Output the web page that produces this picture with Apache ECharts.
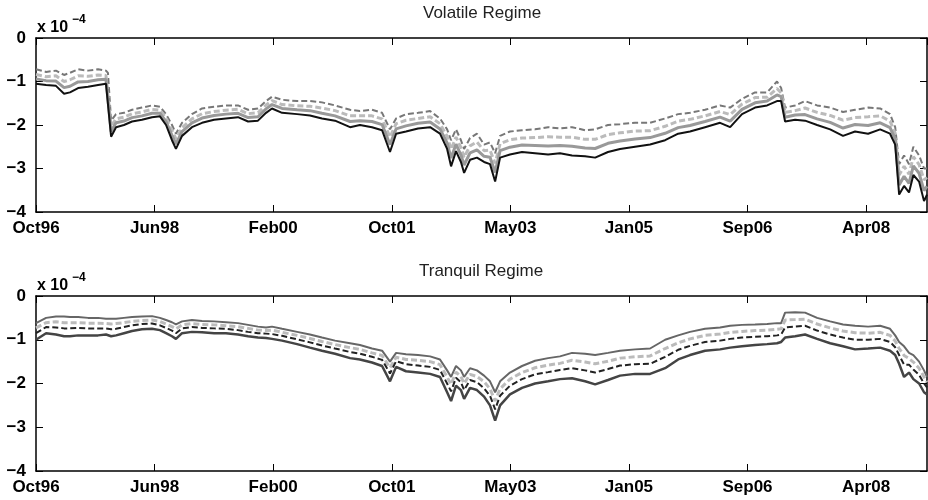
<!DOCTYPE html>
<html>
<head>
  <meta charset="utf-8">
</head>
<body style="margin: 0">
  <div id="container" style="width: 928px; height: 500px"></div>

  <script type="text/javascript" src="https://fastly.jsdelivr.net/npm/echarts@6/dist/echarts.min.js"></script>
  <script type="text/javascript">
    // x positions in days from Oct96 (600 days between labelled ticks)
    var days = [0, 51, 101, 142, 172, 213, 263, 314, 354, 364, 380, 405, 445, 486, 536, 587, 627, 658, 688, 708,
      739, 789, 840, 901, 961, 1022, 1073, 1123, 1164, 1194, 1245, 1321, 1386, 1447, 1513, 1589, 1639, 1700, 1751, 1791,
      1822, 1872, 1933, 1994, 2044, 2080, 2100, 2125, 2150, 2166, 2196, 2231, 2267, 2297, 2323, 2348, 2398, 2459, 2525, 2591,
      2651, 2712, 2778, 2829, 2894, 2955, 3031, 3107, 3183, 3249, 3309, 3385, 3461, 3512, 3572, 3638, 3699, 3749, 3770, 3790,
      3841, 3891, 3952, 4018, 4083, 4144, 4210, 4271, 4321, 4347, 4367, 4392, 4417, 4439, 4468, 4493, 4508];

    var tickLabels = ['Oct96', 'Jun98', 'Feb00', 'Oct01', 'May03', 'Jan05', 'Sep06', 'Apr08'];

    // Volatile regime (x 1e-4)
    var volUpper = [-0.72, -0.78, -0.75, -0.85, -0.80, -0.72, -0.75, -0.72, -0.75, -0.80, -1.90, -1.75, -1.72, -1.65, -1.60, -1.55, -1.58, -1.75, -2.00, -2.20,
      -1.95, -1.75, -1.62, -1.58, -1.55, -1.55, -1.65, -1.62, -1.45, -1.35, -1.42, -1.45, -1.45, -1.48, -1.55, -1.65, -1.68, -1.65, -1.72, -2.10,
      -1.85, -1.75, -1.72, -1.68, -1.85, -2.10, -2.35, -2.10, -2.35, -2.55, -2.30, -2.20, -2.45, -2.40, -2.65, -2.25, -2.15, -2.12, -2.10, -2.05,
      -2.08, -2.05, -2.12, -2.10, -2.00, -1.98, -1.95, -1.95, -1.85, -1.75, -1.72, -1.65, -1.55, -1.60, -1.40, -1.25, -1.25, -1.00, -1.15, -1.60,
      -1.55, -1.45, -1.55, -1.60, -1.70, -1.65, -1.60, -1.62, -1.75, -2.05, -2.90, -2.70, -2.90, -2.50, -2.70, -3.00, -3.00];
    var volMidHigh = [-0.84, -0.89, -0.87, -1.00, -0.96, -0.87, -0.88, -0.85, -0.86, -0.89, -2.03, -1.86, -1.82, -1.74, -1.70, -1.64, -1.66, -1.84, -2.12, -2.32,
      -2.06, -1.86, -1.74, -1.69, -1.66, -1.64, -1.74, -1.72, -1.54, -1.44, -1.53, -1.56, -1.57, -1.61, -1.67, -1.79, -1.79, -1.79, -1.86, -2.28,
      -1.97, -1.89, -1.85, -1.81, -1.97, -2.26, -2.56, -2.28, -2.52, -2.74, -2.48, -2.39, -2.59, -2.58, -2.88, -2.43, -2.34, -2.30, -2.29, -2.27,
      -2.28, -2.28, -2.33, -2.33, -2.22, -2.18, -2.14, -2.13, -2.03, -1.91, -1.87, -1.79, -1.69, -1.76, -1.52, -1.37, -1.36, -1.16, -1.26, -1.71,
      -1.67, -1.61, -1.71, -1.78, -1.89, -1.83, -1.81, -1.79, -1.91, -2.19, -3.15, -2.95, -3.13, -2.73, -2.91, -3.26, -3.21];
    var volMidLow = [-0.94, -0.98, -0.99, -1.14, -1.11, -1.01, -1.00, -0.96, -0.95, -0.97, -2.15, -1.95, -1.91, -1.83, -1.79, -1.73, -1.73, -1.92, -2.24, -2.44,
      -2.15, -1.95, -1.84, -1.78, -1.75, -1.73, -1.83, -1.81, -1.63, -1.53, -1.62, -1.65, -1.67, -1.73, -1.79, -1.92, -1.90, -1.92, -1.99, -2.45,
      -2.09, -2.02, -1.96, -1.93, -2.09, -2.41, -2.76, -2.44, -2.69, -2.92, -2.64, -2.57, -2.72, -2.74, -3.09, -2.59, -2.51, -2.46, -2.47, -2.48,
      -2.47, -2.49, -2.53, -2.54, -2.42, -2.37, -2.32, -2.29, -2.19, -2.06, -2.01, -1.92, -1.82, -1.91, -1.64, -1.49, -1.45, -1.31, -1.35, -1.82,
      -1.77, -1.76, -1.86, -1.94, -2.07, -1.99, -2.01, -1.95, -2.06, -2.32, -3.38, -3.18, -3.34, -2.94, -3.11, -3.51, -3.41];
    var volLower = [-1.05, -1.08, -1.10, -1.28, -1.25, -1.15, -1.12, -1.08, -1.05, -1.05, -2.27, -2.05, -2.00, -1.92, -1.88, -1.82, -1.80, -2.00, -2.35, -2.55,
      -2.25, -2.05, -1.95, -1.88, -1.85, -1.82, -1.92, -1.90, -1.72, -1.62, -1.72, -1.75, -1.78, -1.85, -1.90, -2.05, -2.00, -2.05, -2.12, -2.62,
      -2.20, -2.15, -2.08, -2.05, -2.20, -2.55, -2.95, -2.60, -2.85, -3.10, -2.80, -2.75, -2.85, -2.90, -3.30, -2.75, -2.68, -2.62, -2.65, -2.68,
      -2.65, -2.70, -2.72, -2.75, -2.62, -2.55, -2.50, -2.45, -2.35, -2.20, -2.15, -2.05, -1.95, -2.05, -1.75, -1.60, -1.55, -1.45, -1.45, -1.92,
      -1.88, -1.90, -2.00, -2.10, -2.25, -2.15, -2.20, -2.10, -2.20, -2.45, -3.60, -3.40, -3.55, -3.15, -3.30, -3.75, -3.60];

    // Tranquil regime (x 1e-4)
    var tranUpper = [-0.62, -0.50, -0.47, -0.47, -0.48, -0.48, -0.50, -0.50, -0.52, -0.52, -0.52, -0.52, -0.50, -0.48, -0.47, -0.46, -0.50, -0.55, -0.60, -0.65,
      -0.58, -0.55, -0.57, -0.58, -0.60, -0.62, -0.66, -0.70, -0.72, -0.70, -0.75, -0.82, -0.88, -0.95, -1.02, -1.08, -1.12, -1.20, -1.25, -1.50,
      -1.30, -1.33, -1.35, -1.38, -1.45, -1.70, -1.85, -1.60, -1.70, -1.85, -1.65, -1.70, -1.82, -1.95, -2.20, -1.95, -1.75, -1.60, -1.48, -1.42,
      -1.38, -1.30, -1.32, -1.35, -1.30, -1.25, -1.22, -1.20, -1.00, -0.90, -0.82, -0.75, -0.72, -0.68, -0.66, -0.65, -0.64, -0.62, -0.62, -0.38,
      -0.37, -0.38, -0.50, -0.58, -0.65, -0.68, -0.70, -0.68, -0.75, -0.90, -1.05, -1.15, -1.30, -1.35, -1.50, -1.70, -1.85];
    var tranMidHigh = [-0.73, -0.61, -0.59, -0.61, -0.61, -0.61, -0.62, -0.62, -0.63, -0.63, -0.64, -0.63, -0.61, -0.58, -0.56, -0.55, -0.58, -0.64, -0.70, -0.75,
      -0.66, -0.63, -0.65, -0.66, -0.68, -0.70, -0.74, -0.78, -0.79, -0.78, -0.83, -0.90, -0.97, -1.04, -1.11, -1.18, -1.22, -1.30, -1.36, -1.64,
      -1.40, -1.45, -1.47, -1.50, -1.57, -1.85, -2.02, -1.74, -1.84, -2.00, -1.79, -1.84, -1.96, -2.12, -2.40, -2.12, -1.90, -1.75, -1.64, -1.58,
      -1.54, -1.47, -1.51, -1.55, -1.49, -1.42, -1.39, -1.37, -1.20, -1.07, -0.98, -0.90, -0.87, -0.83, -0.81, -0.79, -0.78, -0.76, -0.75, -0.55,
      -0.54, -0.53, -0.64, -0.73, -0.80, -0.84, -0.85, -0.83, -0.90, -1.03, -1.20, -1.36, -1.43, -1.51, -1.65, -1.85, -1.97];
    var tranMidLow = [-0.85, -0.71, -0.72, -0.74, -0.74, -0.73, -0.74, -0.74, -0.74, -0.75, -0.76, -0.75, -0.71, -0.67, -0.64, -0.63, -0.67, -0.73, -0.79, -0.85,
      -0.74, -0.71, -0.73, -0.74, -0.75, -0.78, -0.82, -0.85, -0.86, -0.87, -0.91, -0.99, -1.06, -1.13, -1.20, -1.28, -1.32, -1.39, -1.46, -1.77,
      -1.49, -1.56, -1.59, -1.62, -1.69, -2.00, -2.18, -1.87, -1.97, -2.15, -1.92, -1.97, -2.11, -2.28, -2.59, -2.28, -2.05, -1.90, -1.79, -1.74,
      -1.69, -1.65, -1.70, -1.75, -1.67, -1.59, -1.56, -1.55, -1.39, -1.23, -1.14, -1.05, -1.02, -0.98, -0.95, -0.93, -0.92, -0.90, -0.88, -0.72,
      -0.70, -0.68, -0.79, -0.88, -0.95, -1.00, -1.00, -0.98, -1.05, -1.17, -1.35, -1.57, -1.57, -1.68, -1.80, -2.00, -2.09];
    var tranLower = [-1.00, -0.85, -0.88, -0.92, -0.92, -0.90, -0.90, -0.90, -0.88, -0.90, -0.92, -0.90, -0.85, -0.80, -0.76, -0.75, -0.78, -0.85, -0.92, -0.98,
      -0.85, -0.82, -0.83, -0.85, -0.85, -0.88, -0.92, -0.95, -0.96, -0.98, -1.02, -1.10, -1.18, -1.25, -1.32, -1.42, -1.45, -1.52, -1.60, -1.95,
      -1.62, -1.72, -1.75, -1.78, -1.85, -2.20, -2.40, -2.05, -2.15, -2.35, -2.10, -2.15, -2.30, -2.50, -2.85, -2.50, -2.25, -2.10, -2.00, -1.95,
      -1.90, -1.88, -1.95, -2.02, -1.92, -1.82, -1.78, -1.78, -1.65, -1.45, -1.35, -1.25, -1.22, -1.18, -1.15, -1.12, -1.10, -1.08, -1.05, -0.95,
      -0.92, -0.88, -0.98, -1.08, -1.15, -1.22, -1.20, -1.18, -1.25, -1.35, -1.55, -1.85, -1.75, -1.90, -2.00, -2.20, -2.25];

    var dom = document.getElementById('container');
    var myChart = echarts.init(dom, null, { renderer: 'canvas' });

    var font = 'Liberation Sans, Arial, Helvetica, sans-serif';

    function pairs(arr) {
      return days.map(function (d, i) { return [d, arr[i]]; });
    }

    function xAxisFor(grid, pos) {
      return {
        type: 'value', gridIndex: grid, position: pos,
        min: 0, max: 4508, interval: 600,
        splitLine: { show: false },
        axisLine: { show: true, onZero: false, lineStyle: { color: '#000', width: 1.5 } },
        axisTick: { show: true, inside: true, length: 7, lineStyle: { color: '#000', width: 1 } },
        axisLabel: {
          show: pos === 'bottom', margin: 8, showMaxLabel: false,
          color: '#000', fontFamily: font, fontWeight: 'bold', fontSize: 17,
          formatter: function (v) {
            var k = Math.round(v / 600);
            return (v % 600 === 0 && tickLabels[k]) ? tickLabels[k] : '';
          }
        }
      };
    }

    function yAxisFor(grid, pos) {
      return {
        type: 'value', gridIndex: grid, position: pos,
        min: -4, max: 0, interval: 1,
        splitLine: { show: false },
        axisLine: { show: true, onZero: false, lineStyle: { color: '#000', width: 1.5 } },
        axisTick: { show: true, inside: true, length: 7, lineStyle: { color: '#000', width: 1 } },
        axisLabel: {
          show: pos === 'left', margin: 10,
          color: '#000', fontFamily: font, fontWeight: 'bold', fontSize: 17,
          formatter: function (v) { return v === 0 ? '0' : '\u2212' + Math.abs(v); }
        }
      };
    }

    function line(arr, xi, yi, color, dashed, width) {
      return {
        type: 'line', xAxisIndex: xi, yAxisIndex: yi,
        data: pairs(arr), showSymbol: false, animation: false,
        lineStyle: { color: color, width: width, type: dashed ? [6, 3] : 'solid' }
      };
    }

    var option = {
      animation: false,
      grid: [
        { left: 36, right: 1, top: 38, height: 174 },
        { left: 36, right: 1, top: 296, height: 175 }
      ],
      xAxis: [xAxisFor(0, 'bottom'), xAxisFor(0, 'top'), xAxisFor(1, 'bottom'), xAxisFor(1, 'top')],
      yAxis: [yAxisFor(0, 'left'), yAxisFor(0, 'right'), yAxisFor(1, 'left'), yAxisFor(1, 'right')],
      graphic: [
        { type: 'text', left: 423, top: 5, style: { text: 'Volatile Regime', font: '17px ' + font, fill: '#222' } },
        { type: 'text', left: 419, top: 263, style: { text: 'Tranquil Regime', font: '17px ' + font, fill: '#222' } },
        { type: 'text', left: 37, top: 20, style: { text: 'x 10', font: 'bold 16px ' + font, fill: '#000' } },
        { type: 'text', left: 72, top: 14, style: { text: '\u22124', font: 'bold 12px ' + font, fill: '#000' } },
        { type: 'text', left: 37, top: 278, style: { text: 'x 10', font: 'bold 16px ' + font, fill: '#000' } },
        { type: 'text', left: 72, top: 272, style: { text: '\u22124', font: 'bold 12px ' + font, fill: '#000' } }
      ],
      series: [
        line(volUpper, 0, 0, '#777', true, 2),
        line(volMidHigh, 0, 0, '#bbb', true, 3),
        line(volMidLow, 0, 0, '#999', false, 3),
        line(volLower, 0, 0, '#111', false, 2),
        line(tranUpper, 2, 2, '#666', false, 2),
        line(tranMidHigh, 2, 2, '#bbb', true, 3),
        line(tranMidLow, 2, 2, '#222', true, 2),
        line(tranLower, 2, 2, '#444', false, 2.5)
      ]
    };

    myChart.setOption(option);
  </script>
</body>
</html>
